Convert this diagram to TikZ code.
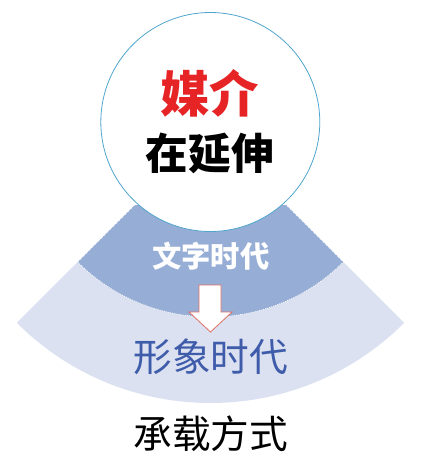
\documentclass[tikz,border=0pt]{standalone}
\usepackage{fontspec}
\newfontfamily\cjk{Noto Sans CJK SC}
\newfontfamily\cjkheavy{Noto Sans CJK SC Black}
\definecolor{mediared}{RGB}{230,36,38}
\definecolor{ringline}{RGB}{80,165,205}
\definecolor{darkband}{RGB}{150,173,213}
\definecolor{lightband}{RGB}{219,225,240}
\definecolor{imageblue}{RGB}{62,92,170}
\definecolor{arrowline}{RGB}{222,112,100}
\tikzset{
	band/.style={draw=none},
	title text/.style={font=\cjkheavy, inner sep=0pt},
	plain text/.style={font=\cjk, inner sep=0pt}}
\tikzset{every picture/.style={line width=0.75pt}}

\begin{document}
\begin{tikzpicture}[x=0.75pt,y=0.75pt,yscale=-1,xscale=1]
	\useasboundingbox (0,0) rectangle (425,469);

	%Shape: Block Arc [id:outer band]
	\fill [lightband, shift={(210.5,129)}] (45:188) arc [start angle=45, end angle=135, radius=188] -- (135:274) arc [start angle=135, end angle=45, radius=274] -- cycle ;
	%Shape: Block Arc [id:inner band]
	\begin{scope}
		\clip (0,205) rectangle (425,469);
		\filldraw [fill=darkband, draw=white, densely dotted, line width=0.6, shift={(210.5,129)}] (0,0) -- (45:188) arc [start angle=45, end angle=135, radius=188] -- cycle ;
	\end{scope}
	%Shape: Circle [id:media circle]
	\draw [draw=ringline, fill=white, line width=0.6] (210.3,122) circle [radius=109.5] ;
	%Shape: Down Arrow [id:change arrow]
	\draw [draw=arrowline, fill=white, line width=0.6] (199,285) -- (221,285) -- (221,312) -- (232,312) -- (210.5,332) -- (189,312) -- (199,312) -- cycle ;

	% Text Node
	\node [title text, text=mediared, font=\cjkheavy\fontsize{37}{37}\selectfont] (media) at (210,93) {媒介};
	% Text Node
	\node [title text, text=black, font=\cjkheavy\fontsize{32}{32}\selectfont] (extend) at (210,153) {在延伸};
	% Text Node
	\node [title text, text=white, font=\cjk\bfseries\fontsize{22}{22}\selectfont] (script) at (211,256) {文字时代};
	% Text Node
	\node [plain text, text=imageblue, font=\cjk\fontsize{29}{29}\selectfont] (image) at (211,357) {形象时代};
	% Text Node
	\node [plain text, text=black, font=\cjk\fontsize{29}{29}\selectfont] (carrier) at (211,434) {承载方式};

\end{tikzpicture}
\end{document}
